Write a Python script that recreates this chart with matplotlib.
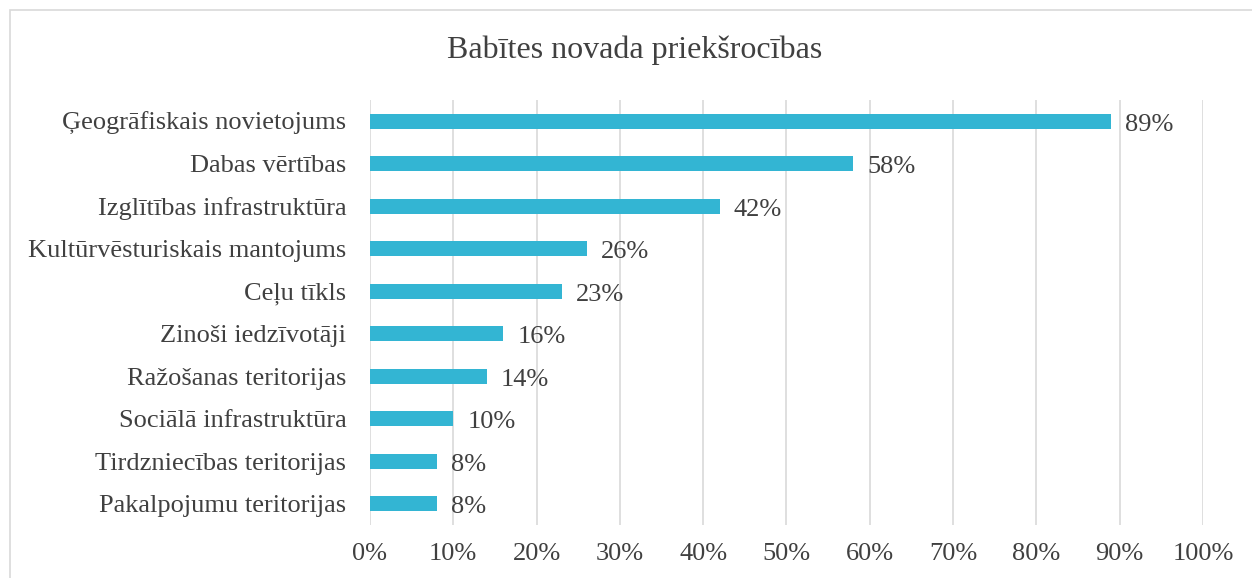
import matplotlib
matplotlib.use('Agg')
from matplotlib import pyplot as plt
from matplotlib.patches import Rectangle

categories = ['Ģeogrāfiskais novietojums', 'Dabas vērtības', 'Izglītības infrastruktūra',
              'Kultūrvēsturiskais mantojums', 'Ceļu tīkls', 'Zinoši iedzīvotāji',
              'Ražošanas teritorijas', 'Sociālā infrastruktūra', 'Tirdzniecības teritorijas',
              'Pakalpojumu teritorijas']
values = [89, 58, 42, 26, 23, 16, 14, 10, 8, 8]
xticks = [0, 10, 20, 30, 40, 50, 60, 70, 80, 90, 100]

plt.rcParams['font.family'] = ['Liberation Serif', 'DejaVu Serif']
text_color = '#404040'
fs = 19

fig = plt.figure(figsize=(12.52, 5.78), dpi=100)
ax = fig.add_axes([0.2955, 0.0917, 0.6653, 0.7353])

pos = list(range(len(categories)))
ax.barh(pos, values, height=0.36, color='#33b5d3', zorder=3)
for p, v in zip(pos, values):
    ax.text(v + 1.7, p + 0.08, '{}%'.format(v), va='center', ha='left', fontsize=fs, color=text_color)

ax.set_xlim(0, 100)
ax.set_ylim(len(categories) - 0.5, -0.5)
ax.set_yticks(pos)
ax.set_yticklabels(categories, fontsize=fs, color=text_color)
ax.set_xticks(xticks)
ax.set_xticklabels(['{}%'.format(t) for t in xticks], fontsize=fs, color=text_color)
ax.tick_params(length=0)
ax.tick_params(axis='x', pad=13)
ax.tick_params(axis='y', pad=17)
ax.grid(axis='x', color='#d9d9d9', linewidth=1.2, zorder=0)
for s in ax.spines.values():
    s.set_visible(False)

fig.text(0.507, 0.913, 'Babītes novada priekšrocības', ha='center', va='center',
         fontsize=23, color=text_color)

# outer chart frame
fig.patches.append(Rectangle((10 / 1252, -0.01), 1.1, 1 - 10 / 578 + 0.01,
                             transform=fig.transFigure, fill=False,
                             edgecolor='#d9d9d9', linewidth=1.2))

fig.savefig('out.png', dpi=100)
